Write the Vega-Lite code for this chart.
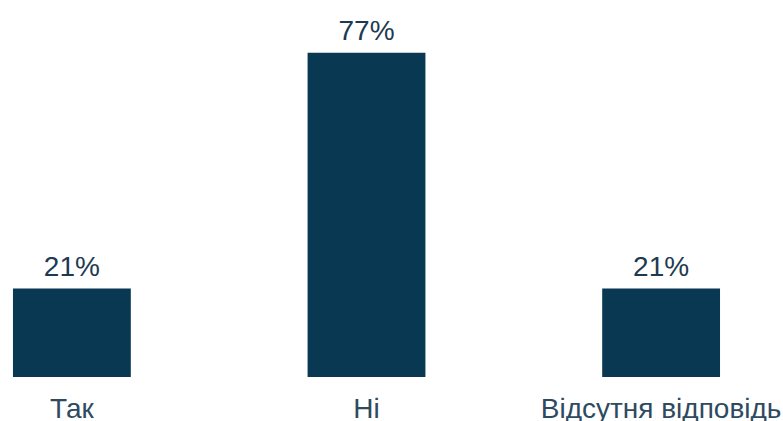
{
  "$schema": "https://vega.github.io/schema/vega-lite/v6.json",
  "background": "white",
  "autosize": "none",
  "padding": {"top": 0, "left": 0, "right": 0, "bottom": 44},
  "width": 783,
  "height": 377,
  "data": {
    "values": [
      {"answer": "Так", "share": 21, "label": "21%"},
      {"answer": "Ні", "share": 77, "label": "77%"},
      {"answer": "Відсутня відповідь", "share": 21, "label": "21%"}
    ]
  },
  "encoding": {
    "x": {
      "field": "answer",
      "type": "nominal",
      "sort": null,
      "title": null,
      "scale": {"range": [0, 733], "paddingInner": 0.6, "paddingOuter": 0.044},
      "axis": {
        "domain": false,
        "ticks": false,
        "labelAngle": 0,
        "labelFont": "Liberation Sans Narrow, Liberation Sans",
        "labelFontSize": 28,
        "labelColor": "#2e4a60",
        "labelPadding": 18,
        "labelBaseline": "top",
        "labelLimit": 0,
        "labelOverlap": false
      }
    },
    "y": {
      "field": "share",
      "type": "quantitative",
      "scale": {"domain": [0, 89.5]},
      "axis": null
    }
  },
  "layer": [
    {"mark": {"type": "bar", "color": "#083852"}},
    {
      "mark": {
        "type": "text",
        "dy": -13,
        "baseline": "alphabetic",
        "font": "Liberation Sans Narrow, Liberation Sans",
        "fontSize": 28,
        "color": "#1c3a52"
      },
      "encoding": {"text": {"field": "label", "type": "nominal"}}
    }
  ],
  "config": {"view": {"stroke": null}}
}
